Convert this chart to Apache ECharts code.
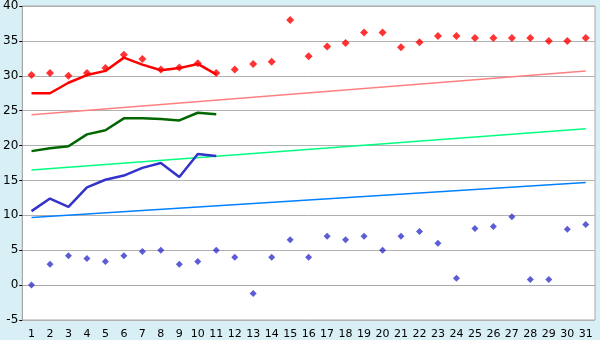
<!DOCTYPE html>
<html><head><meta charset="utf-8">
<script src="https://cdn.jsdelivr.net/npm/echarts@6/dist/echarts.min.js"></script>
<style>html,body{margin:0;padding:0;background:#d9eff6;}#c{width:600px;height:340px;}</style>
</head><body><div id="c"></div>
<script>
const days = ['1','2','3','4','5','6','7','8','9','10','11','12','13','14','15','16','17','18','19','20','21','22','23','24','25','26','27','28','29','30','31'];
const redLine = [27.5,27.5,29.0,30.1,30.7,32.6,31.6,30.8,31.1,31.7,30.2];
const greenLine = [19.2,19.6,19.9,21.6,22.2,23.9,23.9,23.8,23.6,24.7,24.5];
const blueLine = [10.6,12.4,11.2,14.0,15.1,15.7,16.8,17.5,15.5,18.8,18.5];
const redPoints = [30.1,30.4,30.0,30.4,31.1,33.0,32.4,30.9,31.2,31.8,30.4,30.9,31.7,32.0,38.0,32.8,34.2,34.7,36.2,36.2,34.1,34.8,35.7,35.7,35.4,35.4,35.4,35.4,35.0,35.0,35.4];
const bluePoints = [0.0,3.0,4.2,3.8,3.4,4.2,4.8,5.0,3.0,3.4,5.0,4.0,-1.2,4.0,6.5,4.0,7.0,6.5,7.0,5.0,7.0,7.7,6.0,1.0,8.1,8.4,9.8,0.8,0.8,8.0,8.7];
const redTrend = [24.4, 30.7];
const greenTrend = [16.5, 22.4];
const blueTrend = [9.7, 14.7];
const yTicks = [-5,0,5,10,15,20,25,30,35,40];

function ends(pair){ const a = days.map(()=>null); a[0]=pair[0]; a[days.length-1]=pair[1]; return a; }
const font = {fontFamily:'DejaVu Sans', fontSize:11, color:'#000'};
const chart = echarts.init(document.getElementById('c'));
chart.setOption({
  animation:false,
  backgroundColor:'#d9eff6',
  grid:{left:20,right:5,top:5,bottom:20,show:true,backgroundColor:'#fff',borderColor:'#a8a8a8',borderWidth:1},
  xAxis:{type:'category',data:days,boundaryGap:true,
    axisLine:{lineStyle:{color:'#a8a8a8',width:1}},
    axisTick:{alignWithLabel:true,length:6,lineStyle:{color:'#000'}},
    axisLabel:Object.assign({margin:9,interval:0},font),
    splitLine:{show:false}},
  yAxis:{type:'value',min:yTicks[0],max:yTicks[yTicks.length-1],interval:5,
    axisLine:{show:true,lineStyle:{color:'#a8a8a8'}},
    axisTick:{show:true,length:3,lineStyle:{color:'#000'}},
    axisLabel:Object.assign({margin:4},font,{fontSize:12}),
    splitLine:{lineStyle:{color:'#b0b0b0',width:1}}},
  series:[
    {type:'line',data:ends(redTrend),connectNulls:true,showSymbol:false,lineStyle:{color:'#ff8080',width:1.5},itemStyle:{color:'#ff8080'}},
    {type:'line',data:ends(greenTrend),connectNulls:true,showSymbol:false,lineStyle:{color:'#00ff80',width:1.5},itemStyle:{color:'#00ff80'}},
    {type:'line',data:ends(blueTrend),connectNulls:true,showSymbol:false,lineStyle:{color:'#0080ff',width:1.5},itemStyle:{color:'#0080ff'}},
    {type:'line',data:redLine,showSymbol:false,lineStyle:{color:'#ff0000',width:2.5},itemStyle:{color:'#ff0000'}},
    {type:'line',data:greenLine,showSymbol:false,lineStyle:{color:'#006600',width:2.5},itemStyle:{color:'#006600'}},
    {type:'line',data:blueLine,showSymbol:false,lineStyle:{color:'#3333cc',width:2.5},itemStyle:{color:'#3333cc'}},
    {type:'scatter',data:redPoints,symbol:'diamond',symbolSize:8,itemStyle:{color:'#ff0000'}},
    {type:'scatter',data:bluePoints,symbol:'diamond',symbolSize:7,itemStyle:{color:'#3333cc'}}
  ]
});
</script></body></html>
